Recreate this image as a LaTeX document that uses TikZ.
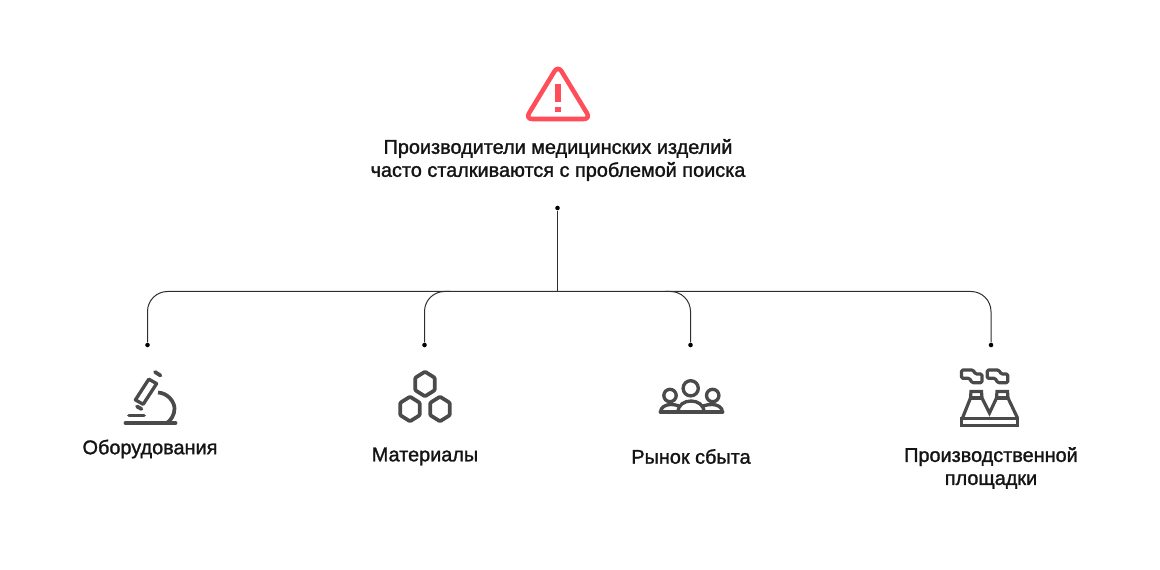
\documentclass[tikz,border=0pt]{standalone}
\usepackage{fontspec}
\setmainfont[FakeBold=1.4]{Liberation Sans}
\definecolor{alertred}{HTML}{FF4D5A}
\definecolor{icongray}{HTML}{4A4A4A}
\definecolor{txt}{HTML}{141414}
\definecolor{wire}{HTML}{2E2E2E}
\tikzset{
  lbl/.style={align=center,text=txt,inner sep=0pt,font=\fontsize{14.9pt}{17.25pt}\selectfont},
  pin/.style={circle,fill=black,inner sep=0pt,minimum size=3.4pt},
  wirel/.style={draw=wire,line width=0.75pt},
  ic/.style={draw=icongray,line width=2.8pt,line join=round,line cap=round},
  icp/.style={draw=icongray,line width=2.5pt,line join=round,line cap=round},
  ict/.style={draw=icongray,line width=2.4pt,line join=round}
}
\begin{document}
\begin{tikzpicture}[x=0.75pt,y=-0.75pt]
\useasboundingbox (0,0) rectangle (1160,570);
% alert
\draw[alertred,line width=3.4pt,rounded corners=5pt,line join=round] (558,65.5) -- (590.5,119) -- (525.5,119) -- cycle;
\fill[alertred] (555,84) rectangle (560.5,102);
\fill[alertred] (555,107) rectangle (560.5,112);
% labels
\node[lbl] (title) at (558,160) {Производители медицинских изделий\\часто сталкиваются с проблемой поиска};
\node[lbl] (l1) at (150,449) {Оборудования};
\node[lbl] (l2) at (425,456.5) {Материалы};
\node[lbl] (l3) at (691,456.5) {Рынок сбыта};
\node[lbl] (l4) at (991,468) {Производственной\\площадки};
% connectors
\node[pin] (top) at (557.5,208) {};
\coordinate (hub) at (557.5,291.5);
\coordinate (j2) at (450,291.5);
\coordinate (j3) at (665,291.5);
\node[pin] (p1) at (147.5,345) {};
\node[pin] (p2) at (424.5,345) {};
\node[pin] (p3) at (690.5,345) {};
\node[pin] (p4) at (991,345) {};
\draw[wirel] (top) -- (hub);
\draw[wirel,rounded corners=15pt] (p1) |- (hub) -| (p4);
\draw[wirel,rounded corners=15pt] (p2) |- (j2);
\draw[wirel,rounded corners=15pt] (p3) |- (j3);
% microscope
\draw[ic] (125.5,423) -- (175.5,423);
\draw[ic] (129,415.5) -- (144,415.5);
\draw[icp,line cap=butt] (148.8,379.2) -- (156.6,383.6) -- (143.2,404.3) -- (135.4,399.9) -- cycle;
\draw[ic] (137,406.5) -- (141.5,409);
\draw[ic] (155,372) -- (160.5,375.5);
\draw[ic,line cap=butt] (158,392.5) .. controls (168,393) and (174.5,402) .. (174.5,408.5) .. controls (174.5,415) and (171,420) .. (167,423);
% hexagons
\foreach \cx/\cy/\nm in {425/384/a,410/409/b,440/409/c}{
  \draw[ic,rounded corners=0.8pt] (\cx,\cy-12.3) -- (\cx+9.8,\cy-6.2) -- (\cx+9.8,\cy+6.2) -- (\cx,\cy+12.3) -- (\cx-9.8,\cy+6.2) -- (\cx-9.8,\cy-6.2) -- cycle;
}
% people
\draw[icp] (690.7,388.3) circle[radius=7.6];
\draw[icp] (670,395.5) circle[radius=6.2];
\draw[icp] (712.7,395.5) circle[radius=6.2];
\draw[ic] (660.5,412.2) -- (722.5,412.2);
\draw[icp,line cap=butt] (660.5,412.2) .. controls (660.5,407) and (666,404.5) .. (671,404.5) .. controls (674,404.5) and (676,405) .. (679,406);
\draw[icp,line cap=butt] (722.5,412.2) .. controls (722.5,407) and (717,404.5) .. (712,404.5) .. controls (709,404.5) and (706,405) .. (703,406);
\draw[icp,line cap=butt] (678,412.2) .. controls (678,405) and (684,401) .. (691,401) .. controls (698,401) and (704,405) .. (704,412.2);
% factory
\draw[ict,line join=miter] (961.5,418.5) rectangle (1017.5,425.5);
\draw[ict,line join=miter] (962.5,418) -- (970.5,398) -- (971,391.5) -- (981.5,391.5) -- (982,398) -- (989.5,413) -- (996.5,398) -- (997,391.5) -- (1007.5,391.5) -- (1008,398) -- (1017.5,418);
\draw[ict] (970.5,398) -- (982,398);
\draw[ict] (996.5,398) -- (1008,398);
\foreach \dx in {0,25.7}{
  \draw[ict,rounded corners=1pt] (961.5+\dx,370) -- (973+\dx,370) -- (975.5+\dx,374) -- (982+\dx,374) -- (982+\dx,382.7) -- (972+\dx,382.7) -- (969.5+\dx,378.3) -- (961.5+\dx,378.3) -- cycle;
}
\end{tikzpicture}
\end{document}
